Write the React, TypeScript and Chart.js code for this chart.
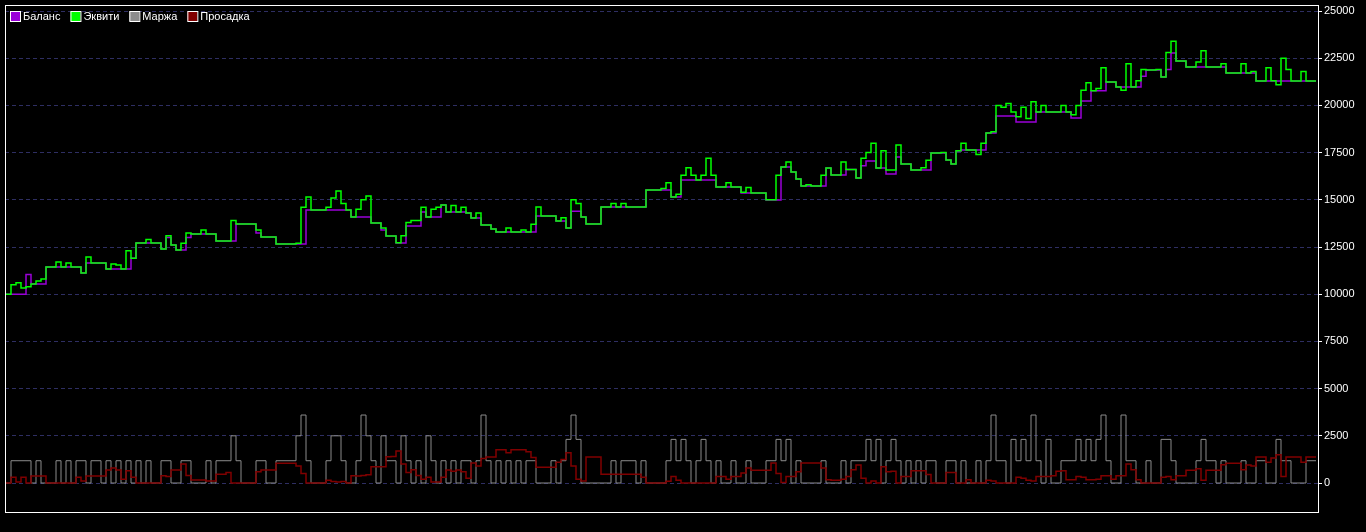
import React, { useEffect, useRef } from "react";
import { Chart, registerables } from "chart.js";

Chart.register(...registerables);

const SERIES_NAMES = ["Баланс", "Эквити", "Маржа", "Просадка"];
const SERIES_COLORS = ["#9a00d8", "#00ff00", "#8c8c8c", "#800000"];
const Y_TICKS = [0, 2500, 5000, 7500, 10000, 12500, 15000, 17500, 20000, 22500, 25000];

const EQUITY = [
  10000, 10000, 10500, 10600, 10330, 10400, 10540, 10700, 10800, 11440,
  11440, 11700, 11440, 11650, 11440, 11440, 11120, 11970, 11650, 11650,
  11650, 11330, 11600, 11550, 11330, 12300, 11900, 12710, 12710, 12900,
  12710, 12710, 12400, 13100, 12600, 12340, 12700, 13240, 13190, 13190,
  13400, 13190, 13190, 12820, 12820, 12820, 13900, 13720, 13720, 13720,
  13720, 13400, 13030, 13030, 13030, 12660, 12660, 12660, 12660, 12700,
  14600, 15150, 14460, 14460, 14460, 14600, 15100, 15470, 14800, 14460,
  14090, 14500, 15000, 15200, 13770, 13770, 13500, 13080, 13080, 12720,
  13100, 13800, 13900, 13900, 14600, 14090, 14500, 14600, 14730, 14350,
  14700, 14350, 14600, 14300, 14040, 14300, 13660, 13660, 13450, 13300,
  13300, 13500, 13300, 13300, 13400, 13300, 13700, 14620, 14140, 14140,
  14140, 13880, 14050, 13500, 15000, 14800, 14090, 13720, 13720, 13720,
  14620, 14620, 14800, 14620, 14800, 14620, 14620, 14620, 14620, 15520,
  15520, 15520, 15600, 15900, 15150, 15300, 16300, 16700, 16300, 16050,
  16300, 17200, 16300, 15680, 15680, 15900, 15680, 15680, 15400, 15650,
  15360, 15360, 15360, 15000, 15000, 16300, 16740, 17000, 16470, 16100,
  15730, 15800, 15730, 15730, 16300, 16690, 16320, 16320, 17000, 16600,
  16600, 16160, 17200, 17500, 18000, 16690, 17600, 16580, 16580, 17900,
  16900, 16900, 16580, 16580, 16700, 17100, 17480, 17480, 17500, 17110,
  16900, 17600, 18000, 17640, 17640, 17400, 18000, 18540, 18600, 20000,
  19900, 20100, 19650, 19400, 19900, 19300, 20200, 19650, 20000, 19650,
  19650, 19650, 20000, 19650, 19500, 20000, 20800, 21200, 20770, 20900,
  22000, 21240, 21240, 20970, 20800, 22200, 20970, 21300, 21900, 21880,
  21880, 21900, 21500, 22800, 23400, 22350, 22350, 22030, 22030, 22300,
  22900, 22030, 22030, 22030, 22200, 21720, 21720, 21720, 22200, 21720,
  21800, 21290, 21290, 22000, 21300, 21100, 22500, 21900, 21290, 21290,
  21800, 21290, 21290,
];

const BALANCE = [
  10000, 10000, 10000, 10000, 10000, 11050, 10540, 10540, 10540, 11440,
  11440, 11440, 11440, 11440, 11440, 11440, 11120, 11650, 11650, 11650,
  11650, 11330, 11330, 11330, 11330, 11330, 11900, 12710, 12710, 12710,
  12710, 12710, 12400, 13000, 12600, 12340, 12340, 13000, 13190, 13190,
  13190, 13190, 13190, 12820, 12820, 12820, 12820, 13720, 13720, 13720,
  13720, 13240, 13030, 13030, 13030, 12660, 12660, 12660, 12660, 12660,
  12660, 14460, 14460, 14460, 14460, 14460, 14460, 14460, 14460, 14460,
  14090, 14090, 14090, 14090, 13770, 13770, 13400, 13080, 13080, 12710,
  12710, 13610, 13610, 13610, 14350, 14090, 14090, 14090, 14730, 14350,
  14350, 14350, 14350, 14300, 14040, 14040, 13660, 13660, 13450, 13300,
  13300, 13300, 13300, 13300, 13300, 13300, 13300, 14140, 14140, 14140,
  14140, 13880, 13880, 13500, 14400, 14400, 14090, 13720, 13720, 13720,
  14620, 14620, 14620, 14620, 14620, 14620, 14620, 14620, 14620, 15520,
  15520, 15520, 15520, 15520, 15150, 15150, 16050, 16050, 16050, 16050,
  16050, 16050, 16050, 15680, 15680, 15680, 15680, 15680, 15360, 15360,
  15360, 15360, 15360, 14990, 14990, 14990, 16740, 16740, 16470, 16100,
  15730, 15730, 15730, 15730, 15730, 16690, 16320, 16320, 16320, 16600,
  16600, 16160, 16800, 17060, 17060, 16690, 16690, 16370, 16370, 17270,
  16900, 16900, 16580, 16580, 16580, 16580, 17480, 17480, 17480, 17110,
  16900, 17590, 17640, 17640, 17640, 17640, 17640, 18540, 18540, 19440,
  19440, 19440, 19440, 19120, 19120, 19120, 19120, 19650, 19650, 19650,
  19650, 19650, 19650, 19650, 19330, 19330, 20230, 20230, 20770, 20770,
  20770, 21240, 21240, 20970, 20970, 20970, 20970, 20970, 21540, 21880,
  21880, 21880, 21500, 21900, 22780, 22350, 22350, 22030, 22030, 22030,
  22030, 22030, 22030, 22030, 22030, 21720, 21720, 21720, 21720, 21720,
  21720, 21290, 21290, 21290, 21290, 21290, 21290, 21290, 21290, 21290,
  21290, 21290, 21290,
];

const MARGIN = [
  0, 0, 1180, 1180, 1180, 1180, 0, 1180, 0, 0,
  0, 1180, 0, 1180, 0, 1180, 1180, 0, 1180, 1180,
  0, 1180, 0, 1180, 0, 1180, 0, 1180, 0, 1180,
  0, 0, 1180, 1180, 0, 0, 1180, 1180, 0, 0,
  0, 1180, 0, 1180, 1180, 1180, 2500, 1180, 0, 0,
  0, 1180, 1180, 0, 0, 1180, 1180, 1180, 1180, 2500,
  3600, 1180, 0, 0, 0, 1180, 2500, 2500, 1180, 0,
  0, 1180, 3600, 2500, 1180, 0, 2500, 1180, 1180, 0,
  2500, 1180, 0, 1180, 0, 2500, 1180, 0, 1180, 0,
  1180, 0, 1180, 1180, 0, 1180, 3600, 1180, 0, 1180,
  0, 1180, 0, 1180, 0, 1180, 1180, 0, 0, 0,
  1180, 0, 1180, 2310, 3600, 2310, 0, 0, 0, 0,
  0, 0, 1180, 0, 1180, 1180, 1180, 0, 1180, 0,
  0, 0, 0, 1180, 2310, 1180, 2310, 1180, 0, 1180,
  2310, 1180, 0, 1180, 0, 0, 1180, 0, 0, 1180,
  0, 0, 0, 1180, 1180, 2310, 1180, 2310, 0, 1180,
  0, 0, 0, 0, 1180, 0, 0, 0, 1180, 0,
  1180, 1180, 1180, 2310, 1180, 2310, 0, 1180, 2310, 1180,
  0, 1180, 0, 1180, 0, 1180, 1180, 0, 0, 1180,
  1180, 0, 1180, 0, 0, 1180, 0, 1180, 3600, 1180,
  1180, 0, 2310, 1180, 2310, 1180, 3600, 1180, 0, 2310,
  0, 0, 1180, 1180, 1180, 2310, 1180, 2310, 1180, 2310,
  3600, 1180, 0, 0, 3600, 1180, 1180, 0, 0, 1180,
  0, 0, 2310, 2310, 1180, 0, 0, 0, 0, 1180,
  2310, 1180, 1180, 0, 1180, 0, 0, 0, 1180, 0,
  0, 1180, 1180, 0, 0, 2310, 1180, 1180, 0, 0,
  0, 1180, 1180,
];

const DRAWDOWN = [
  0, 0, 300, 50, 300, 0, 370, 370, 370, 0,
  0, 0, 0, 0, 0, 300, 100, 370, 370, 370,
  370, 690, 800, 690, 200, 650, 300, 0, 0, 0,
  0, 0, 380, 350, 690, 690, 1000, 400, 160, 160,
  160, 100, 100, 470, 470, 560, 0, 0, 0, 0,
  0, 600, 690, 690, 690, 1040, 1040, 1040, 1040, 900,
  500, 0, 0, 0, 0, 150, 80, 50, 80, 0,
  390, 370, 400, 440, 860, 860, 860, 1390, 1400, 1700,
  1000, 550, 700, 400, 200, 300, 50, 50, 300, 690,
  620, 690, 600, 250, 1060, 900, 1300, 1380, 1380, 1760,
  1760, 1600, 1760, 1760, 1760, 1650, 1350, 830, 830, 830,
  830, 1100, 1240, 1600, 900, 200, 100, 1380, 1380, 1380,
  470, 470, 470, 470, 470, 470, 470, 470, 300, 0,
  0, 0, 0, 90, 350, 150, 0, 0, 0, 0,
  0, 0, 0, 350, 350, 200, 350, 350, 530, 800,
  670, 670, 670, 670, 1060, 500, 30, 350, 350, 600,
  1060, 1060, 1060, 1060, 800, 177, 150, 150, 200, 350,
  700, 950, 250, 0, 100, 0, 860, 600, 620, 0,
  350, 350, 650, 650, 650, 450, 0, 0, 0, 550,
  550, 0, 0, 177, 0, 0, 0, 150, 100, 0,
  0, 0, 0, 300, 250, 150, 100, 350, 350, 350,
  390, 620, 650, 177, 177, 350, 300, 177, 177, 200,
  390, 390, 200, 390, 390, 1000, 706, 177, 0, 0,
  0, 0, 300, 350, 177, 390, 390, 670, 670, 750,
  150, 670, 670, 670, 970, 1040, 1040, 1040, 700, 950,
  900, 1380, 1380, 1100, 1320, 1500, 350, 1380, 1380, 1380,
  1100, 1380, 1380,
];

const FONT = '"Liberation Sans", Arial, sans-serif';

export default function App() {
  const ref = useRef<HTMLCanvasElement>(null);

  useEffect(() => {
    document.body.style.margin = "0";
    document.body.style.background = "#000";
    const toPts = (arr: number[]) => arr.map((v, i) => ({ x: i, y: v }));

    const framePlugin = {
      id: "frame",
      afterDraw(chart: any) {
        const { ctx, chartArea: a } = chart;
        ctx.save();
        ctx.strokeStyle = "#ffffff";
        ctx.lineWidth = 1;
        ctx.strokeRect(a.left + 0.5, a.top + 0.5, a.right - a.left, a.bottom - a.top);
        ctx.restore();
      },
    };

    const legendPlugin = {
      id: "innerLegend",
      afterDraw(chart: any) {
        const ctx = chart.ctx;
        ctx.save();
        ctx.font = `11px ${FONT}`;
        ctx.textBaseline = "middle";
        ctx.textAlign = "left";
        let x = 10;
        chart.data.datasets.forEach((ds: any) => {
          ctx.fillStyle = ds.borderColor;
          ctx.fillRect(x, 11, 10, 10);
          ctx.strokeStyle = "#ffffff";
          ctx.lineWidth = 1;
          ctx.strokeRect(x + 0.5, 11.5, 10, 10);
          ctx.fillStyle = "#ffffff";
          ctx.fillText(ds.label, x + 13, 16.5);
          x += 13 + ctx.measureText(ds.label).width + 10;
        });
        ctx.restore();
      },
    };

    const chart = new Chart(ref.current as HTMLCanvasElement, {
      type: "line",
      data: {
        datasets: [
          { label: SERIES_NAMES[0], data: toPts(BALANCE), borderColor: SERIES_COLORS[0], backgroundColor: SERIES_COLORS[0], borderWidth: 1.5, stepped: "after", order: 1 },
          { label: SERIES_NAMES[1], data: toPts(EQUITY), borderColor: SERIES_COLORS[1], backgroundColor: SERIES_COLORS[1], borderWidth: 1.5, stepped: "after", order: 0 },
          { label: SERIES_NAMES[2], data: toPts(MARGIN), borderColor: SERIES_COLORS[2], backgroundColor: SERIES_COLORS[2], borderWidth: 1, stepped: "after", order: 3 },
          { label: SERIES_NAMES[3], data: toPts(DRAWDOWN), borderColor: SERIES_COLORS[3], backgroundColor: SERIES_COLORS[3], borderWidth: 1.5, stepped: "after", order: 2 },
        ] as any,
      },
      options: {
        animation: false,
        responsive: false,
        devicePixelRatio: 1,
        layout: { padding: { left: 5, top: 5, right: 0, bottom: 20 } },
        elements: { point: { radius: 0 }, line: { tension: 0 } },
        plugins: { legend: { display: false }, tooltip: { enabled: false } },
        scales: {
          x: { type: "linear", display: false, min: -0.2, max: 262.4 },
          y: {
            position: "right",
            min: -1536,
            max: 25318,
            afterBuildTicks: (s: any) => {
              s.ticks = Y_TICKS.map((v) => ({ value: v }));
            },
            afterFit: (s: any) => {
              s.width = 48;
              s.paddingTop = 0;
              s.paddingBottom = 0;
            },
            grid: { color: "#2e2e62", lineWidth: 1, tickLength: 4, tickColor: "#ffffff", drawTicks: true },
            border: { display: false, dash: [4, 3] },
            ticks: {
              color: "#ffffff",
              padding: 2,
              font: { family: FONT, size: 11 },
              callback: (v: any) => String(v),
            },
          },
        },
      } as any,
      plugins: [framePlugin, legendPlugin],
    });
    return () => chart.destroy();
  }, []);

  return (
    <div style={{ width: 1366, height: 532, background: "#000" }}>
      <canvas ref={ref} width={1366} height={532} style={{ display: "block" }} />
    </div>
  );
}
